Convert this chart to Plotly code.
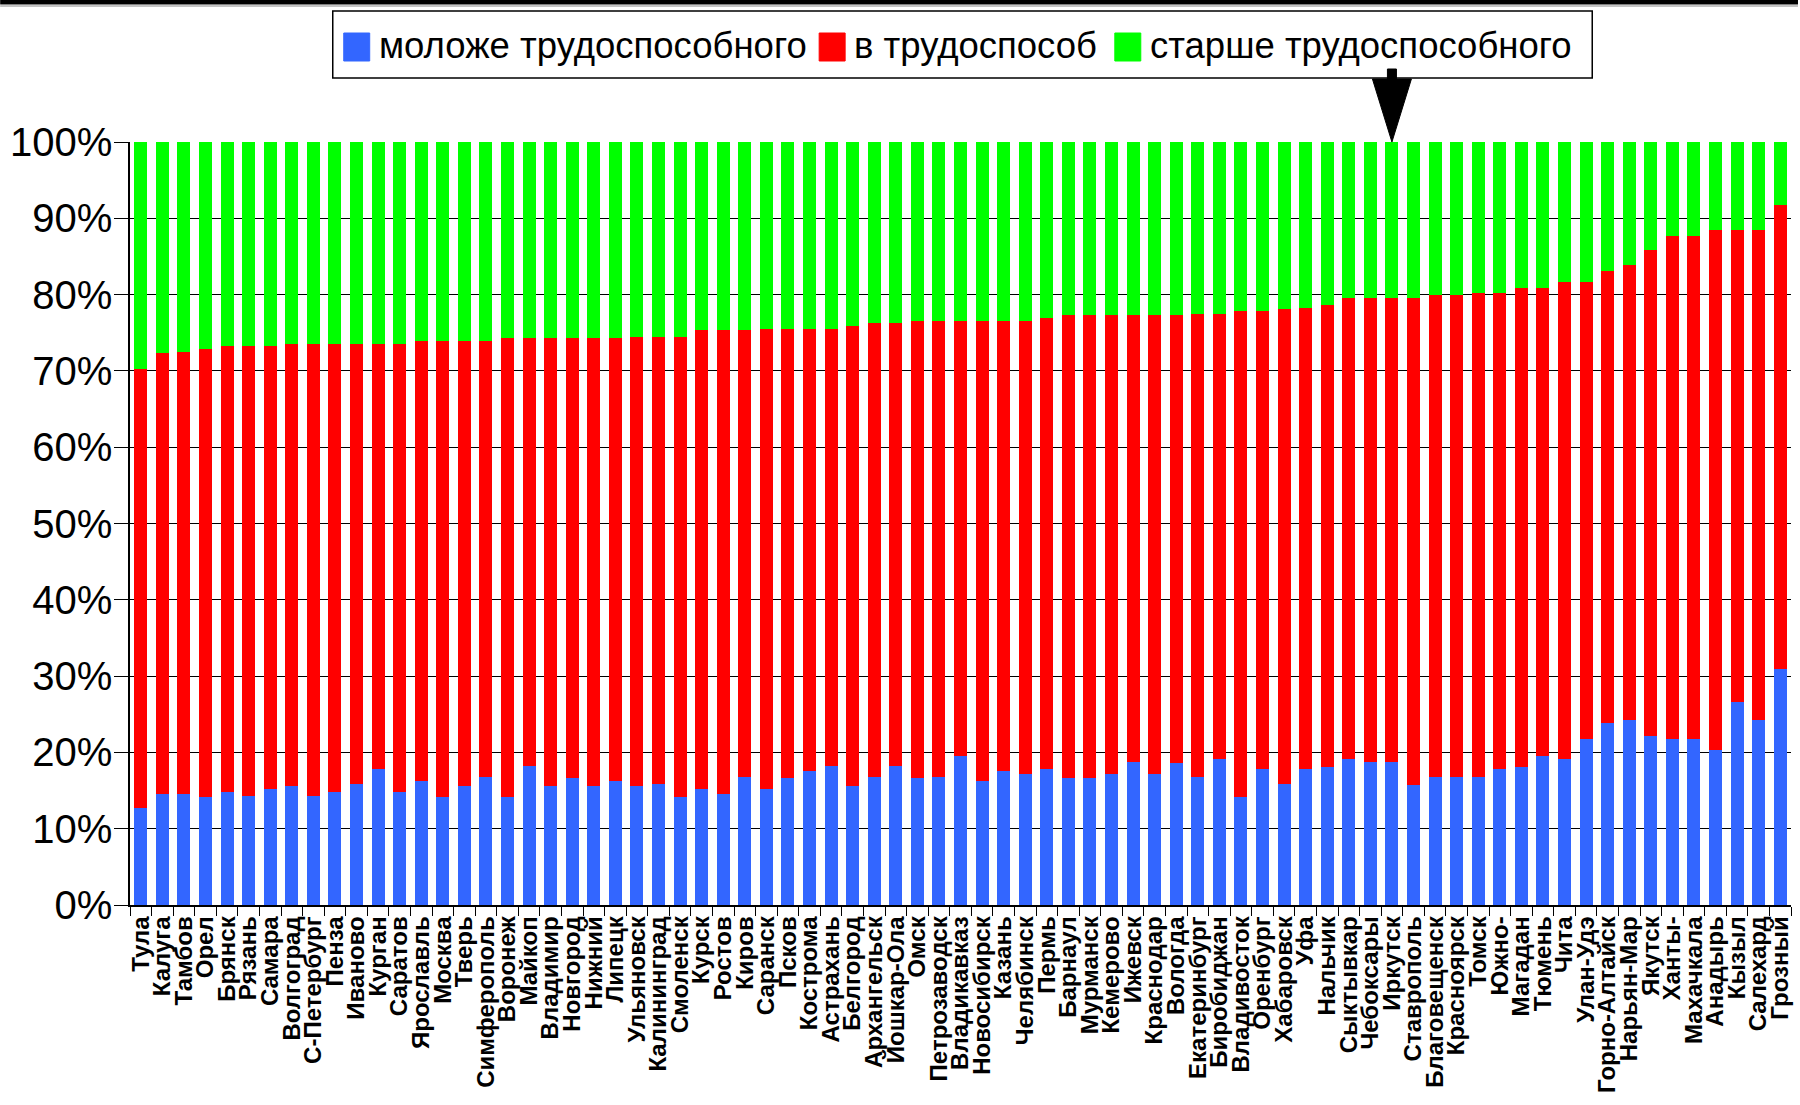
import plotly.graph_objects as go

# Age structure of regional capitals: share of population younger than,
# within and older than working age (percent of total).
cities = [
    "Тула", "Калуга", "Тамбов", "Орел", "Брянск", "Рязань", "Самара", "Волгоград",
    "С-Петербург", "Пенза", "Иваново", "Курган", "Саратов", "Ярославль", "Москва",
    "Тверь", "Симферополь", "Воронеж", "Майкоп", "Владимир", "Новгород", "Нижний",
    "Липецк", "Ульяновск", "Калининград", "Смоленск", "Курск", "Ростов", "Киров",
    "Саранск", "Псков", "Кострома", "Астрахань", "Белгород", "Архангельск",
    "Йошкар-Ола", "Омск", "Петрозаводск", "Владикавказ", "Новосибирск", "Казань",
    "Челябинск", "Пермь", "Барнаул", "Мурманск", "Кемерово", "Ижевск", "Краснодар",
    "Вологда", "Екатеринбург", "Биробиджан", "Владивосток", "Оренбург", "Хабаровск",
    "Уфа", "Нальчик", "Сыктывкар", "Чебоксары", "Иркутск", "Ставрополь",
    "Благовещенск", "Красноярск", "Томск", "Южно-", "Магадан", "Тюмень", "Чита",
    "Улан-Удэ", "Горно-Алтайск", "Нарьян-Мар", "Якутск", "Ханты-", "Махачкала",
    "Анадырь", "Кызыл", "Салехард", "Грозный",
]

younger = [
    12.7, 14.6, 14.6, 14.2, 14.8, 14.3, 15.2, 15.6, 14.3, 14.8, 15.8, 17.8, 14.8,
    16.2, 14.2, 15.6, 16.8, 14.2, 18.2, 15.6, 16.6, 15.6, 16.2, 15.6, 15.8, 14.2,
    15.2, 14.6, 16.8, 15.2, 16.6, 17.6, 18.2, 15.6, 16.8, 18.2, 16.6, 16.8, 19.5,
    16.2, 17.6, 17.2, 17.8, 16.6, 16.6, 17.2, 18.8, 17.2, 18.6, 16.8, 19.2, 14.2,
    17.8, 15.8, 17.8, 18.1, 19.1, 18.7, 18.7, 15.7, 16.8, 16.8, 16.8, 17.8, 18.1,
    19.5, 19.1, 21.7, 23.9, 24.2, 22.2, 21.7, 21.8, 20.3, 26.6, 24.2, 30.9,
]

working = [
    57.6, 57.7, 57.9, 58.7, 58.5, 59.0, 58.1, 57.9, 59.2, 58.7, 57.7, 55.7, 58.7,
    57.7, 59.7, 58.3, 57.1, 60.1, 56.1, 58.7, 57.7, 58.7, 58.1, 58.9, 58.7, 60.3,
    60.1, 60.7, 58.5, 60.3, 58.9, 57.9, 57.3, 60.3, 59.5, 58.1, 59.9, 59.7, 57.0,
    60.3, 58.9, 59.3, 59.1, 60.7, 60.7, 60.1, 58.5, 60.1, 58.7, 60.7, 58.3, 63.6,
    60.0, 62.3, 60.5, 60.6, 60.4, 60.8, 60.8, 63.9, 63.1, 63.1, 63.4, 62.4, 62.8,
    61.4, 62.5, 59.9, 59.2, 59.7, 63.7, 66.0, 65.9, 68.2, 61.9, 64.3, 60.8,
]

older = [
    29.7, 27.7, 27.5, 27.1, 26.7, 26.7, 26.7, 26.5, 26.5, 26.5, 26.5, 26.5, 26.5,
    26.1, 26.1, 26.1, 26.1, 25.7, 25.7, 25.7, 25.7, 25.7, 25.7, 25.5, 25.5, 25.5,
    24.7, 24.7, 24.7, 24.5, 24.5, 24.5, 24.5, 24.1, 23.7, 23.7, 23.5, 23.5, 23.5,
    23.5, 23.5, 23.5, 23.1, 22.7, 22.7, 22.7, 22.7, 22.7, 22.7, 22.5, 22.5, 22.2,
    22.2, 21.9, 21.7, 21.3, 20.5, 20.5, 20.5, 20.4, 20.1, 20.1, 19.8, 19.8, 19.1,
    19.1, 18.4, 18.4, 16.9, 16.1, 14.1, 12.3, 12.3, 11.5, 11.5, 11.5, 8.3,
]

series_names = ["моложе трудоспособного", "в трудоспособ", "старше трудоспособного"]
series_colors = ["#3366ff", "#ff0000", "#00ff00"]
highlight_city = "Иркутск"

FONT = "Liberation Sans, Arial, sans-serif"
W, H = 1800, 1105
PL, PT, PW, PH = 130, 142, 1663, 763   # plot area in pixels


def px(x):
    return (x - PL) / PW


def py(y):
    return (PT + PH - y) / PH


fig = go.Figure()
for name, vals, col in zip(series_names, [younger, working, older], series_colors):
    fig.add_trace(go.Bar(
        x=cities, y=vals, name=name, marker=dict(color=col, line=dict(width=0)),
        showlegend=False,
    ))

shapes = []
annotations = []

# heavy rule along the top edge
shapes.append(dict(type="rect", xref="paper", yref="paper",
                   x0=px(0), x1=px(W), y0=py(0), y1=py(4.5),
                   fillcolor="black", line=dict(width=0)))
shapes.append(dict(type="line", xref="paper", yref="paper",
                   x0=px(0), x1=px(W), y0=py(6), y1=py(6),
                   line=dict(color="#888888", width=1)))

# legend box with swatches
shapes.append(dict(type="rect", xref="paper", yref="paper",
                   x0=px(333), x1=px(1594), y0=py(11), y1=py(78),
                   fillcolor="white", line=dict(color="black", width=1.5)))
swatch_x = [344, 820, 1116]
for sx, col, name in zip(swatch_x, series_colors, series_names):
    shapes.append(dict(type="rect", xref="paper", yref="paper",
                       x0=px(sx), x1=px(sx + 26), y0=py(33), y1=py(61),
                       fillcolor=col, line=dict(color=col, width=1)))
    annotations.append(dict(xref="paper", yref="paper", x=px(sx + 33), y=py(46),
                            xanchor="left", yanchor="middle", showarrow=False,
                            text=name, font=dict(family=FONT, size=36.5, color="black")))

# arrow pointing at the highlighted city
idx = cities.index(highlight_city)
cx = (idx + 0.5) / len(cities)
hw = 19.5 / PW
sw = 4.5 / PW
arrow_path = (
    f"M {cx - sw},{py(69)} L {cx + sw},{py(69)} L {cx + sw},{py(79)} "
    f"L {cx + hw},{py(79)} L {cx},{1.0} L {cx - hw},{py(79)} L {cx - sw},{py(79)} Z"
)
shapes.append(dict(type="path", xref="paper", yref="paper", path=arrow_path,
                   fillcolor="black", line=dict(color="black", width=1)))

fig.update_layout(
    width=W, height=H,
    margin=dict(l=PL, r=W - PL - PW, t=PT, b=H - PT - PH, pad=0),
    paper_bgcolor="white", plot_bgcolor="white",
    barmode="stack", bargap=0.4,
    font=dict(family=FONT, color="black"),
    shapes=shapes, annotations=annotations,
    xaxis=dict(
        type="category", categoryorder="array", categoryarray=cities,
        tickmode="array", tickvals=cities, ticktext=cities,
        range=[-0.5, len(cities) - 0.5],
        showgrid=False, showline=True, linecolor="black", linewidth=1.5,
        ticks="outside", tickson="boundaries", ticklen=9, tickcolor="black",
        tickangle=-90, tickfont=dict(family=FONT, size=24, color="black", weight="bold"),
    ),
    yaxis=dict(
        range=[0, 100], dtick=10, ticksuffix="%",
        showgrid=True, gridcolor="black", gridwidth=1,
        showline=True, linecolor="black", linewidth=1.5, zeroline=False,
        ticks="outside", ticklen=14, tickcolor="black",
        tickfont=dict(family=FONT, size=40, color="black"),
        ticklabelstandoff=-6,
    ),
)

fig.write_html("out.html")
